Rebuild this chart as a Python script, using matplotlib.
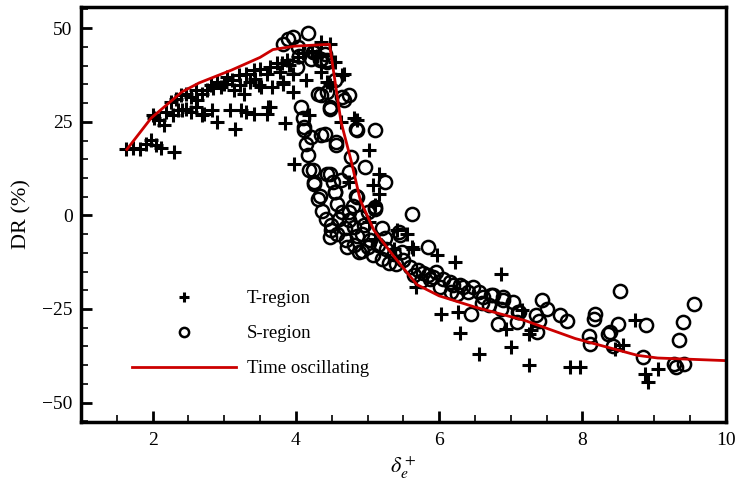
import numpy as np
import matplotlib
matplotlib.use("Agg")
import matplotlib.pyplot as plt
from matplotlib.ticker import MultipleLocator

plt.rcParams['font.family'] = ['Liberation Serif', 'DejaVu Serif']
plt.rcParams['mathtext.fontset'] = 'stix'

# T-region (+)
t_x = [1.63, 1.72, 1.82, 1.91, 1.98, 2.05, 2.12, 2.30,
       2.00, 2.09, 2.16, 2.19, 2.28, 2.35, 2.41, 2.46, 2.53, 2.60, 2.69, 2.72,
       2.83, 2.90, 3.08, 3.15, 3.24, 3.31, 3.41, 3.59, 3.64, 3.85, 3.61, 2.02,
       2.25, 2.32, 2.39, 2.46, 2.53, 2.60, 2.62, 2.69, 2.76, 2.81, 2.85, 2.90,
       2.95, 2.99, 3.04, 3.11, 3.13, 3.20, 3.22, 3.27, 3.31, 3.36, 3.41, 3.43,
       3.48, 3.50, 3.52, 3.59, 3.64, 3.66, 3.73, 3.78, 3.82, 3.87, 3.91, 3.96,
       4.03, 3.80, 3.82, 3.96, 4.14, 4.35, 4.47, 4.35, 4.67, 4.47, 4.19, 4.44,
       4.65, 4.10, 4.22, 4.30, 4.55,
       3.98, 4.63, 4.81, 4.86, 5.02, 5.16, 5.07, 5.16, 4.74, 5.11, 5.02, 5.41,
       5.55, 5.37, 5.62, 5.11, 5.64, 5.97, 6.22, 6.86, 5.67,
       6.03, 6.27, 6.29, 6.56, 6.93, 7.00, 7.16, 7.26, 7.26, 7.83, 7.97, 8.46,
       8.57, 8.73, 8.87, 8.91, 9.05, 7.28]
t_y = [17.8, 18.1, 17.6, 19.0, 20.1, 18.7, 18.1, 16.9,
       26.7, 25.4, 24.1, 27.6, 26.7, 28.1, 28.1, 28.5, 27.6, 29.0, 26.7, 27.2,
       28.1, 25.0, 28.1, 23.2, 28.1, 27.6, 27.2, 27.2, 29.0, 24.6, 29.0, 25.9,
       30.3, 31.2, 32.1, 32.5, 31.6, 33.4, 30.7, 32.5, 33.4, 34.8, 33.9, 35.6,
       34.3, 35.2, 37.0, 36.1, 33.4, 37.4, 34.8, 32.5, 37.9, 35.6, 38.8, 36.5,
       34.8, 39.2, 34.3, 37.9, 39.7, 34.3, 40.6, 38.3, 35.2, 41.4, 40.1, 37.9,
       42.3, 40.6, 35.6, 33.0, 36.1, 46.3, 45.9, 38.3, 37.9, 34.8, 26.7, 35.6,
       37.4, 43.5, 44.0, 42.5, 41.0,
       13.8, 24.9, 25.9, 25.4, 17.4, 11.1, 8.0, 5.8, 8.9, 2.7, -1.8, -4.0,
       -4.9, -8.9, -8.5, -6.2, -8.9, -10.7, -12.5, -15.6, -19.2,
       -26.3, -25.9, -31.5, -37.0, -30.3, -35.2, -25.4, -31.6, -40.1, -40.6, -40.6, -35.6,
       -34.5, -27.9, -42.3, -44.6, -41.0, -30.7]

# S-region (o)
s_x = [4.17, 3.96, 3.89, 3.82, 4.03, 4.26, 4.35, 4.44, 4.01, 4.54, 4.31, 4.65,
       4.74, 4.47, 4.07, 4.10, 4.12, 4.40, 4.56, 4.14, 4.17, 4.86, 5.11, 4.77,
       4.97, 5.25, 4.24, 4.26, 4.47, 4.52, 4.63, 4.54, 4.33, 4.84, 4.74,
       4.24, 4.21, 4.33, 4.44, 4.35, 4.44, 4.67, 4.47, 4.12, 4.35, 4.56, 4.84,
       4.21, 4.40, 4.05,
       4.19, 4.26, 4.31, 4.37, 4.42, 4.49, 4.58, 4.70, 4.81, 4.93, 5.07, 5.20,
       4.44, 4.54, 4.58, 4.65, 4.74, 4.81, 4.93, 5.04, 4.49, 4.72, 4.88, 4.47,
       4.74, 4.95, 5.00, 5.11, 4.86, 5.11, 5.62, 5.44, 5.85, 5.37, 5.50, 5.60,
       5.46, 5.48, 5.26, 5.30, 5.40, 4.60, 4.68, 4.85, 5.00, 5.15, 5.25, 5.20,
       4.90, 4.80,
       5.87, 6.01, 6.15, 6.17, 6.29, 6.47, 6.56, 6.73, 6.89, 6.86, 7.03, 7.10,
       6.45, 6.82, 5.85, 5.92, 6.20, 6.33, 6.61, 6.75, 6.89, 5.70, 5.78, 5.95,
       6.05, 6.25, 6.40, 6.60, 6.70, 5.65, 5.75,
       7.35, 7.44, 7.51, 7.39, 7.37, 7.69, 7.79, 8.18, 8.16, 8.09, 8.11, 8.36,
       8.43, 8.50, 8.52, 8.89, 8.85, 9.28, 9.42, 9.35, 9.40, 9.56, 9.31, 8.39,
       7.12, 7.08]
s_y = [48.8, 47.7, 47.0, 45.9, 45.0, 43.7, 41.9, 41.0, 39.7, 36.1, 32.4, 31.6,
       32.1, 29.0, 29.0, 25.9, 22.7, 21.8, 18.7, 19.2, 16.0, 22.7, 22.7, 15.6,
       12.9, 8.9, 12.0, 8.5, 11.1, 8.9, 9.4, 6.2, 5.3, 5.3, 11.6,
       43.7, 41.9, 41.4, 41.4, 32.1, 33.0, 30.7, 28.5, 23.6, 21.4, 19.6, 23.2,
       20.9, 43.0, 42.5,
       12.0, 8.9, 4.5, 1.3, -0.9, -2.7, -4.9, -6.7, -8.0, -9.4, -10.7, -11.6,
       11.1, 6.2, 3.1, 0.9, -1.3, -3.1, -4.9, -6.7, -4.0, -8.5, -9.8, -5.8,
       0.9, -2.7, 0.9, 1.8, 4.9, 2.2, 0.5, -4.5, -8.5, -10.2, -12.0, -13.8,
       -5.3, -9.8, -9.0, -12.6, -13.0, -1.0, -3.5, -5.5, -8.5, -8.0, -6.0, -3.5,
       -0.5, 2.5,
       -16.9, -19.2, -17.8, -20.5, -18.7, -19.2, -20.5, -21.4, -22.7, -24.9, -23.2, -25.9,
       -26.3, -29.0, -16.0, -16.5, -18.7, -19.2, -21.8, -21.4, -21.8, -14.5, -15.5, -15.0,
       -17.0, -21.0, -20.5, -23.5, -24.0, -16.0, -17.5,
       -26.7, -22.7, -24.9, -28.1, -31.2, -26.7, -28.1, -26.3, -27.8, -32.1, -34.3, -31.6,
       -34.8, -29.0, -20.2, -29.4, -37.9, -39.7, -39.7, -33.4, -28.5, -23.6, -40.6, -31.2,
       -25.9, -28.5]

# Time oscillating
line_x = [1.64, 1.98, 2.41, 2.65, 3.10, 3.50, 3.68, 3.98, 4.47, 4.63, 4.77, 4.90,
          5.09, 5.37, 5.69, 6.00, 6.50, 7.20, 7.90, 8.77, 9.05, 10.0]
line_y = [17.6, 26.0, 33.0, 35.4, 38.8, 42.2, 44.3, 45.2, 45.7, 25.0, 14.7, 4.0,
          -4.0, -11.0, -18.5, -21.5, -24.5, -28.1, -32.9, -37.4, -38.1, -38.8]

fig = plt.figure(figsize=(7.36, 4.91), dpi=100)
ax = fig.add_axes([0.110, 0.1405, 0.876, 0.8455])

ax.plot(t_x, t_y, linestyle='none', marker='+', color='black',
        markersize=9.5, markeredgewidth=2.2, label='T-region')
ax.plot(s_x, s_y, linestyle='none', marker='o', markerfacecolor='none',
        markeredgecolor='black', markersize=9.5, markeredgewidth=1.8, label='S-region')
ax.plot(line_x, line_y, color='#cc0000', linewidth=2, label='Time oscillating')

ax.set_xlim(1, 10)
ax.set_ylim(-55.2, 55.7)
ax.xaxis.set_major_locator(MultipleLocator(2))
ax.xaxis.set_minor_locator(MultipleLocator(0.5))
ax.yaxis.set_major_locator(MultipleLocator(25))
ax.yaxis.set_minor_locator(MultipleLocator(5))
ax.tick_params(which='both', direction='in', top=False, right=False, labelsize=14)
ax.tick_params(which='major', length=8, width=2)
ax.tick_params(which='minor', length=5, width=1.2)
ax.tick_params(axis='x', pad=7)
ax.tick_params(axis='y', pad=6)
for sp in ax.spines.values():
    sp.set_linewidth(2.5)

ax.set_xlabel(r'$\delta_e^+$', fontsize=16, labelpad=4)
ax.set_ylabel('DR (%)', fontsize=16, labelpad=8)

ax.legend(loc='upper left', bbox_to_anchor=(0.157, 0.443), bbox_transform=fig.transFigure,
          frameon=False, fontsize=13.5, handlelength=5.5, handletextpad=0.6,
          labelspacing=0.95, markerscale=0.7)

fig.savefig('out.png', dpi=100)
